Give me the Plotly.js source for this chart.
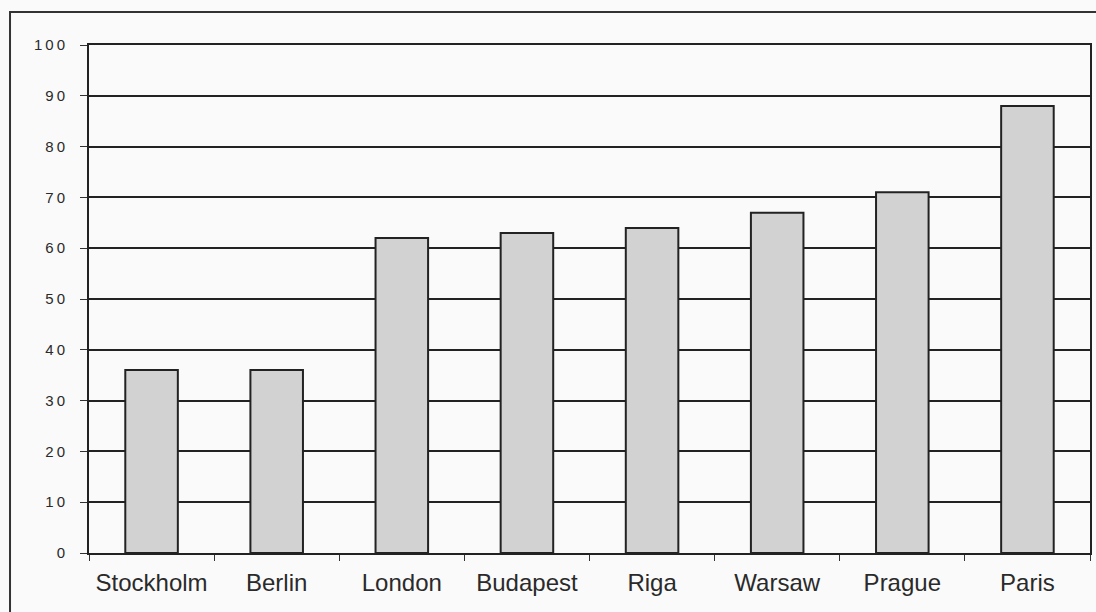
<!DOCTYPE html>
<html>
<head>
<meta charset="utf-8">
<script src="https://cdn.plot.ly/plotly-3.0.1.min.js"></script>
<style>
html,body{margin:0;padding:0;background:#fafafa;}
#chart .ytick text{letter-spacing:3px;}
</style>
</head>
<body>
<div id="chart" style="width:1096px;height:612px;"></div>
<script>
const cities = ["Stockholm", "Berlin", "London", "Budapest", "Riga", "Warsaw", "Prague", "Paris"];
const values = [36, 36, 62, 63, 64, 67, 71, 88];
const yTicks = [0, 10, 20, 30, 40, 50, 60, 70, 80, 90, 100];

const trace = {
  type: "bar",
  x: cities,
  y: values,
  marker: {color: "#d2d2d2", line: {color: "#222222", width: 2}},
  hoverinfo: "skip"
};

const layout = {
  width: 1096, height: 612,
  margin: {l: 89, r: 6, t: 45, b: 59},
  paper_bgcolor: "#fafafa",
  plot_bgcolor: "#fafafa",
  bargap: 0.58,
  showlegend: false,
  font: {family: "Liberation Sans, Arial, sans-serif", color: "#2a2a2a"},
  xaxis: {
    type: "category",
    showline: true, linecolor: "#222", linewidth: 2, mirror: true,
    ticks: "outside", tickson: "boundaries", ticklen: 6, tickcolor: "#333", tickwidth: 1,
    ticklabelstandoff: 7,
    showgrid: false,
    tickfont: {size: 24, color: "#2a2a2a"},
    fixedrange: true
  },
  yaxis: {
    range: [0, 100],
    tickvals: yTicks,
    ticktext: yTicks.map(String),
    showline: true, linecolor: "#222", linewidth: 2, mirror: true,
    ticks: "outside", ticklen: 7, tickcolor: "#333", tickwidth: 1,
    ticklabelstandoff: 9,
    showgrid: true, gridcolor: "#222", gridwidth: 2,
    zeroline: false,
    tickfont: {size: 15, color: "#2a2a2a"},
    fixedrange: true
  },
  shapes: [{
    type: "rect", xref: "paper", yref: "paper",
    x0: -0.0789, x1: 1.01, y0: -0.13, y1: 1.065,
    line: {color: "#333", width: 2}, fillcolor: "rgba(0,0,0,0)", layer: "below"
  }]
};

Plotly.newPlot("chart", [trace], layout, {displayModeBar: false, staticPlot: true});
</script>
</body>
</html>
